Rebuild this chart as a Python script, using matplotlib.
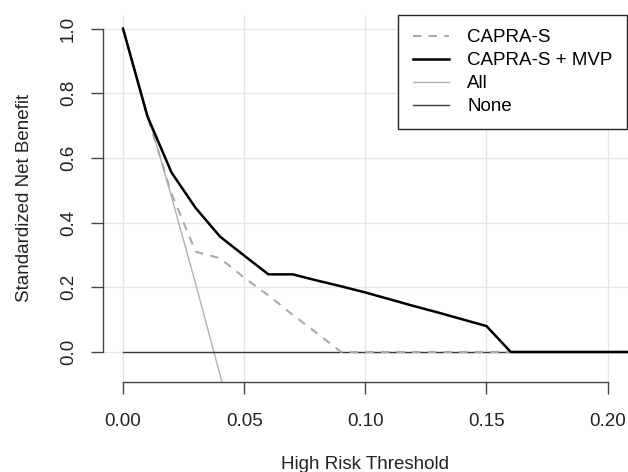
import numpy as np
import matplotlib
matplotlib.use('Agg')
import matplotlib.pyplot as plt
from matplotlib.lines import Line2D

plt.rcParams['font.family'] = ['Liberation Sans', 'DejaVu Sans']
plt.rcParams['font.size'] = 13.5

# decision curve values
thresholds = [0.00, 0.01, 0.02, 0.03, 0.04, 0.05, 0.06, 0.07, 0.08, 0.09, 0.10,
              0.11, 0.12, 0.13, 0.14, 0.15, 0.16, 0.17, 0.18, 0.19, 0.20, 0.21]
capra = [1.0, 0.73, 0.49, 0.31, 0.29, 0.23, 0.175, 0.115, 0.058, 0.0, 0.0,
         0.0, 0.0, 0.0, 0.0, 0.0, 0.0, 0.0, 0.0, 0.0, 0.0, 0.0]
capra_mvp = [1.0, 0.73, 0.555, 0.445, 0.357, 0.298, 0.24, 0.24, 0.221, 0.203, 0.184,
             0.163, 0.142, 0.122, 0.101, 0.080, 0.0, 0.0, 0.0, 0.0, 0.0, 0.0]
all_thresholds = [0.00, 0.01, 0.02, 0.03, 0.04, 0.05]
treat_all = [1.0, 0.74, 0.48, 0.21, -0.07, -0.35]
treat_none = [0.0] * len(thresholds)

labels = ['CAPRA-S', 'CAPRA-S + MVP', 'All', 'None']
xticks = [0.00, 0.05, 0.10, 0.15, 0.20]
yticks = [0.0, 0.2, 0.4, 0.6, 0.8, 1.0]

fig = plt.figure(figsize=(6.28, 4.72), dpi=100)
ax = fig.add_axes([0.1635, 0.1913, 0.8365, 0.7769])
ax.set_xlim(-0.0084, 0.2084)
ax.set_ylim(-0.092, 1.042)

# grid like R's grid()
for xt in xticks:
    ax.axvline(xt, color='#e6e6e6', lw=1, zorder=0)
for yt in yticks:
    ax.axhline(yt, color='#e6e6e6', lw=1, zorder=0)

dash = (0, (4, 3.5))
ax.plot(all_thresholds, treat_all, color='#b0b0b0', lw=1, zorder=2)
ax.plot(thresholds, treat_none, color='#3a3a3a', lw=1, zorder=2)
ax.plot(thresholds, capra, color='#aaaaaa', lw=1.5, ls=dash, zorder=3)
ax.plot(thresholds, capra_mvp, color='black', lw=1.8, zorder=4)

for s in ['top', 'right']:
    ax.spines[s].set_visible(False)
ax.spines['left'].set_bounds(0, 1)
ax.spines['bottom'].set_bounds(0, 0.2)
for s in ['left', 'bottom']:
    ax.spines[s].set_color('#444444')
    ax.spines[s].set_linewidth(1)

ax.set_xticks(xticks)
ax.set_xticklabels(['%.2f' % v for v in xticks])
ax.set_yticks(yticks)
ax.set_yticklabels(['%.1f' % v for v in yticks], rotation=90, va='center')
ax.tick_params(axis='both', length=8.5, width=1, color='#444444', labelcolor='#222222')
ax.tick_params(axis='x', pad=14)
ax.tick_params(axis='y', pad=10)

ax.set_xlabel('High Risk Threshold', labelpad=19, color='#222222')
ax.set_ylabel('Standardized Net Benefit', labelpad=19.5, color='#222222')

handles = [Line2D([], [], color='#aaaaaa', lw=1.5, ls=dash),
           Line2D([], [], color='black', lw=1.8),
           Line2D([], [], color='#b0b0b0', lw=1),
           Line2D([], [], color='#3a3a3a', lw=1)]
leg = ax.legend(handles, labels, loc='upper right', bbox_to_anchor=(0.998, 1.0),
                borderaxespad=0, fancybox=False, framealpha=1, edgecolor='#222222',
                handlelength=1.92, handletextpad=1.0, labelspacing=0.31,
                borderpad=0.76)
leg.get_frame().set_linewidth(1)

fig.savefig('out.png', dpi=100)
